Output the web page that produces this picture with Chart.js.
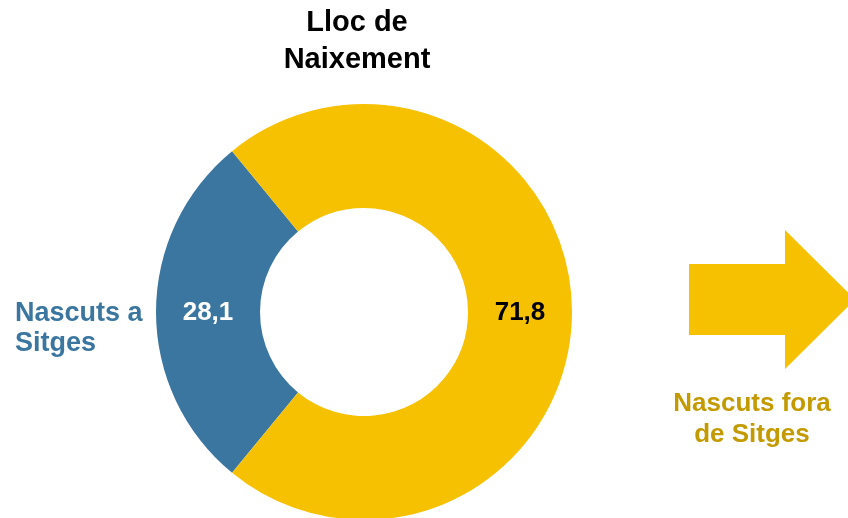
<!DOCTYPE html>
<html>
<head>
<meta charset="utf-8">
<script src="https://cdn.jsdelivr.net/npm/chart.js@4.4.1/dist/chart.umd.min.js"></script>
<style>
  html, body { margin: 0; padding: 0; background: #ffffff; }
  body { width: 848px; height: 518px; overflow: hidden; position: relative; font-family: "Liberation Sans", Arial, sans-serif; font-weight: bold; }
  #wrap { position: absolute; left: 0; top: 0; width: 848px; height: 522px; }
  .t { position: absolute; white-space: nowrap; }
  #title { left: 207px; width: 300px; top: 3px; text-align: center; font-size: 29px; line-height: 36.6px; color: #000; }
  #lblA { left: 15px; top: 297px; font-size: 27px; line-height: 30px; color: #3A76A0; }
  #lblB { left: 652px; width: 200px; top: 387px; text-align: center; font-size: 26px; line-height: 31px; color: #C39A00; }
  #arrow { position: absolute; left: 0; top: 0; }
</style>
</head>
<body>
<div id="wrap"><canvas id="c" width="848" height="522"></canvas></div>
<svg id="arrow" width="848" height="518"><polygon points="689,264 785,264 785,230 855,299.5 785,369 785,335 689,335" fill="#F6C100"/></svg>
<div class="t" id="title">Lloc de<br>Naixement</div>
<div class="t" id="lblA">Nascuts a<br>Sitges</div>
<div class="t" id="lblB">Nascuts fora<br>de Sitges</div>
<script>
const categories = ["Nascuts a Sitges", "Nascuts fora de Sitges"];
const values = [28.1, 71.8];
const valueLabels = ["28,1", "71,8"];
const colors = ["#3A76A0", "#F6C100"];
const labelColors = ["#FFFFFF", "#000000"];

const valuePlugin = {
  id: 'valuePlugin',
  afterDatasetsDraw(chart) {
    const ctx = chart.ctx;
    const meta = chart.getDatasetMeta(0);
    ctx.save();
    ctx.font = 'bold 26px "Liberation Sans", Arial, sans-serif';
    ctx.textAlign = 'center';
    ctx.textBaseline = 'middle';
    meta.data.forEach((arc, i) => {
      const p = arc.tooltipPosition();
      ctx.fillStyle = labelColors[i];
      ctx.fillText(valueLabels[i], p.x, p.y + 1);
    });
    ctx.restore();
  }
};

const total = values.reduce((a, b) => a + b, 0);
new Chart(document.getElementById('c'), {
  type: 'doughnut',
  data: {
    labels: categories,
    datasets: [{
      data: values,
      backgroundColor: colors,
      borderWidth: 0
    }]
  },
  options: {
    responsive: false,
    animation: false,
    cutout: '50%',
    rotation: 270 - (values[0] / total) * 180,
    layout: { padding: { left: 156, right: 276, top: 104, bottom: 2 } },
    plugins: { legend: { display: false }, tooltip: { enabled: false }, title: { display: false } }
  },
  plugins: [valuePlugin]
});
</script>
</body>
</html>
